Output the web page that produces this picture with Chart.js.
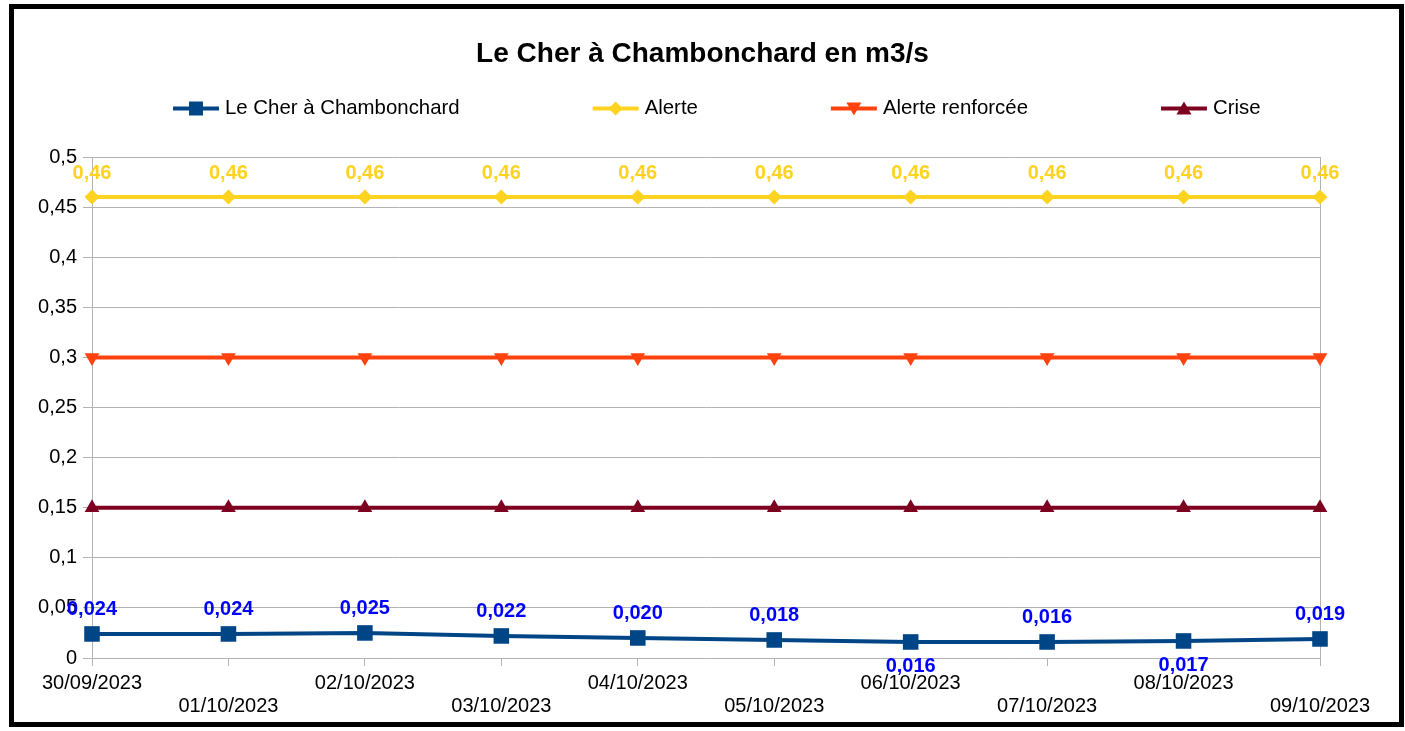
<!DOCTYPE html>
<html>
<head>
<meta charset="utf-8">
<script src="https://cdn.jsdelivr.net/npm/chart.js@4.4.1/dist/chart.umd.min.js"></script>
<style>
html, body { margin: 0; padding: 0; background: #ffffff; }
canvas { display: block; }
</style>
</head>
<body>
<canvas id="c" width="1405" height="731"></canvas>
<script>
// ---------- DATA ----------
const chartTitle = 'Le Cher à Chambonchard en m3/s';
const categories = ['30/09/2023', '01/10/2023', '02/10/2023', '03/10/2023', '04/10/2023',
                    '05/10/2023', '06/10/2023', '07/10/2023', '08/10/2023', '09/10/2023'];
const seriesNames = ['Le Cher à Chambonchard', 'Alerte', 'Alerte renforcée', 'Crise'];
const debitValues = [0.024, 0.024, 0.025, 0.022, 0.020, 0.018, 0.016, 0.016, 0.017, 0.019];
const alerteValues = [0.46, 0.46, 0.46, 0.46, 0.46, 0.46, 0.46, 0.46, 0.46, 0.46];
const alerteRenforceeValues = [0.3, 0.3, 0.3, 0.3, 0.3, 0.3, 0.3, 0.3, 0.3, 0.3];
const criseValues = [0.15, 0.15, 0.15, 0.15, 0.15, 0.15, 0.15, 0.15, 0.15, 0.15];
const yTickValues = [0, 0.05, 0.1, 0.15, 0.2, 0.25, 0.3, 0.35, 0.4, 0.45, 0.5];

// ---------- STYLE ----------
const FONT = '"Liberation Sans", Arial, sans-serif';
const colors = ['#004586', '#ffd320', '#ff420e', '#7e0021'];
const markerKinds = ['square', 'diamond', 'triangleDown', 'triangleUp'];
const gridColor = '#b3b3b3';
// data labels: which dataset, decimals, colour, indices placed below the point
const labelSpecs = [
  { dataset: 0, decimals: 3, color: '#0000ff', below: [6, 8] },
  { dataset: 1, decimals: 2, color: '#ffd320', below: [] }
];

function fmtComma(v, d) { return v.toFixed(d).replace('.', ','); }
function fmtTick(v) { return String(Number(v.toFixed(2))).replace('.', ','); }

function drawMarker(ctx, kind, x, y, color) {
  ctx.save();
  ctx.fillStyle = color;
  ctx.beginPath();
  if (kind === 'square') {
    const s = 7;
    ctx.rect(x - s, y - s, 2 * s, 2 * s);
  } else if (kind === 'diamond') {
    const r = 7;
    ctx.moveTo(x, y - r); ctx.lineTo(x + r, y); ctx.lineTo(x, y + r); ctx.lineTo(x - r, y);
  } else if (kind === 'triangleUp') {
    ctx.moveTo(x, y - 7); ctx.lineTo(x + 7.5, y + 6); ctx.lineTo(x - 7.5, y + 6);
  } else {
    ctx.moveTo(x, y + 7); ctx.lineTo(x + 7.5, y - 6); ctx.lineTo(x - 7.5, y - 6);
  }
  ctx.closePath();
  ctx.fill();
  ctx.restore();
}

const extrasPlugin = {
  id: 'extras',
  afterDatasetsDraw(chart) {
    const ctx = chart.ctx;
    labelSpecs.forEach(spec => {
      const meta = chart.getDatasetMeta(spec.dataset);
      const values = chart.data.datasets[spec.dataset].data;
      ctx.save();
      ctx.font = 'bold 20px ' + FONT;
      ctx.fillStyle = spec.color;
      ctx.textAlign = 'center';
      ctx.textBaseline = 'middle';
      meta.data.forEach((pt, i) => {
        const below = spec.below.includes(i);
        ctx.fillText(fmtComma(values[i], spec.decimals), pt.x, pt.y + (below ? 25 : -24));
      });
      ctx.restore();
    });
  },
  afterDraw(chart) {
    const ctx = chart.ctx;
    // legend
    ctx.save();
    ctx.font = '20.4px ' + FONT;
    ctx.textBaseline = 'middle';
    ctx.textAlign = 'left';
    const ly = 108.5;
    let x = 173;
    const symW = 46, txtGap = 6, itemGap = 133;
    chart.data.datasets.forEach((ds, i) => {
      ctx.strokeStyle = ds.borderColor;
      ctx.lineWidth = 4;
      ctx.beginPath();
      ctx.moveTo(x, ly); ctx.lineTo(x + symW, ly);
      ctx.stroke();
      drawMarker(ctx, markerKinds[i], x + symW / 2, ly, ds.borderColor);
      ctx.fillStyle = '#000000';
      const tx = x + symW + txtGap;
      ctx.fillText(ds.label, tx, ly);
      x = tx + ctx.measureText(ds.label).width + itemGap;
    });
    ctx.restore();
    // outer frame
    ctx.save();
    ctx.strokeStyle = '#000000';
    ctx.lineWidth = 5;
    ctx.strokeRect(11.5, 6.5, 1390, 718);
    ctx.restore();
  }
};

const pointStyles = ['rect', 'rectRot', 'triangle', 'triangle'];
const pointRadii = [11, 7.5, 8.5, 8.5];
const pointRotations = [0, 0, 180, 0];
const seriesValues = [debitValues, alerteValues, alerteRenforceeValues, criseValues];

new Chart(document.getElementById('c'), {
  type: 'line',
  data: {
    labels: categories,
    datasets: seriesNames.map((name, i) => ({
      label: name,
      data: seriesValues[i],
      borderColor: colors[i],
      backgroundColor: colors[i],
      borderWidth: 4,
      tension: 0,
      fill: false,
      pointStyle: pointStyles[i],
      pointRadius: pointRadii[i],
      pointHoverRadius: pointRadii[i],
      pointRotation: pointRotations[i],
      pointBackgroundColor: colors[i],
      pointBorderColor: colors[i],
      pointBorderWidth: 0
    }))
  },
  options: {
    responsive: false,
    devicePixelRatio: 1,
    animation: false,
    events: [],
    layout: { padding: { top: 0, left: 0, right: 0, bottom: 0 } },
    plugins: {
      legend: { display: false },
      tooltip: { enabled: false },
      title: {
        display: true,
        text: chartTitle,
        color: '#000000',
        font: { family: FONT, size: 28, weight: 'bold', lineHeight: 1.2 },
        padding: { top: 37, bottom: 86.4 }
      }
    },
    scales: {
      x: {
        type: 'category',
        offset: false,
        afterFit: s => { s.height = 73; },
        grid: { drawOnChartArea: false, drawTicks: true, tickLength: 8, color: gridColor },
        border: { display: true, color: gridColor },
        ticks: {
          autoSkip: false, maxRotation: 0, minRotation: 0, padding: 6,
          color: '#000000',
          font: { family: FONT, size: 20, lineHeight: 1.15 },
          callback: (v, i) => (i % 2 === 0 ? categories[i] : ['', categories[i]])
        }
      },
      y: {
        min: 0, max: 0.5,
        afterFit: s => { s.width = 92; },
        afterBuildTicks: s => { s.ticks = yTickValues.map(v => ({ value: v })); },
        grid: { color: gridColor, tickLength: 9, drawTicks: true },
        border: { display: true, color: gridColor },
        ticks: {
          padding: 6, color: '#000000',
          font: { family: FONT, size: 20 },
          callback: v => fmtTick(v)
        }
      },
      yRight: {
        position: 'right',
        min: 0, max: 0.5,
        afterFit: s => { s.width = 85; },
        grid: { drawOnChartArea: false, drawTicks: false },
        border: { display: true, color: gridColor },
        ticks: { display: false }
      }
    }
  },
  plugins: [extrasPlugin]
});
</script>
</body>
</html>
